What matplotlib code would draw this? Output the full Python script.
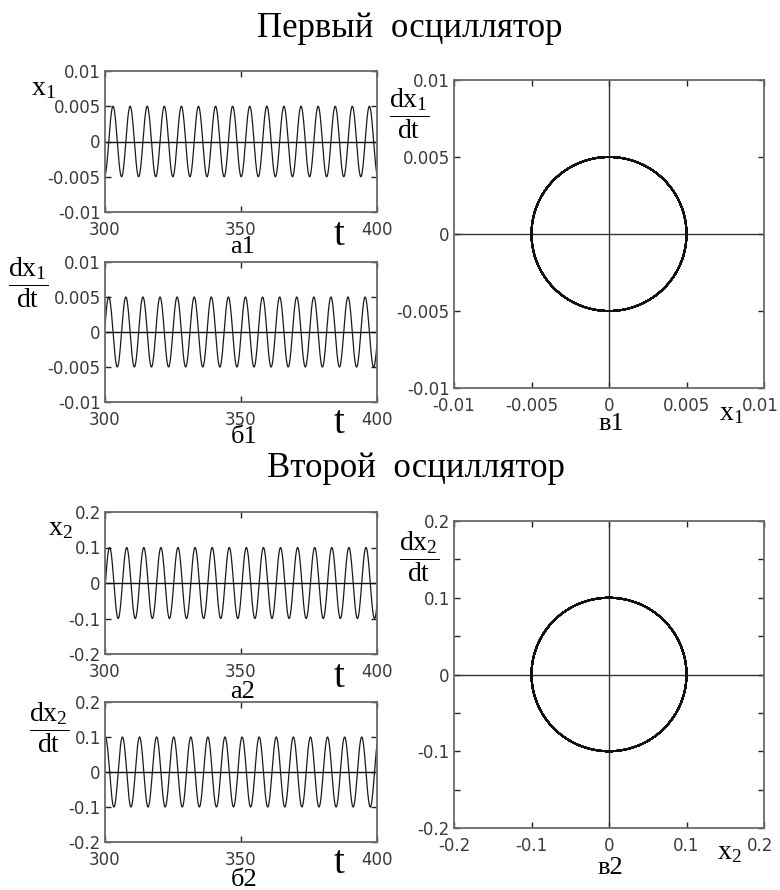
import numpy as np
import matplotlib
matplotlib.use("Agg")
import matplotlib.pyplot as plt
import matplotlib.transforms as mtransforms

plt.rcParams['mathtext.fontset'] = 'custom'
plt.rcParams['mathtext.rm'] = 'Liberation Serif'
plt.rcParams['mathtext.it'] = 'Liberation Serif'

# ---- data ----
t_range = [300, 400]                    # time window
amp_osc1 = 0.005                        # amplitude, first oscillator
amp_osc2 = 0.1                          # amplitude, second oscillator
omega_osc = [1.0, 1.0]                  # angular frequency (≈16 periods per 100 s)
peak_time_osc = [302.95, 301.7]         # time of a maximum of x(t)

time_ticks = [300, 350, 400]
time_ticklabels = ["300", "350", "400"]
ticks1 = [-0.01, -0.005, 0, 0.005, 0.01]
ticklabels1 = ["-0.01", "-0.005", "0", "0.005", "0.01"]
ticks2 = [-0.2, -0.1, 0, 0.1, 0.2]
ticklabels2 = ["-0.2", "-0.1", "0", "0.1", "0.2"]
ticks2_fine = [-0.2, -0.15, -0.1, -0.05, 0, 0.05, 0.1, 0.15, 0.2]
ticklabels2_fine = ["-0.2", "", "-0.1", "", "0", "", "0.1", "", "0.2"]

W, H = 780, 890
fig = plt.figure(figsize=(W / 100, H / 100), dpi=100)
fig.patch.set_facecolor("white")

SERIF = ["Liberation Serif", "DejaVu Serif"]
SANS = ["DejaVu Sans"]
TICKC = "#3a3a3a"
SPINEC = "#6a6a6a"


def ax_px(left, top, right, bottom):
    return fig.add_axes([left / W, 1 - bottom / H, (right - left) / W, (bottom - top) / H])


def ftext(x, y, s, size, **kw):
    fig.text(x / W, 1 - y / H, s, fontsize=size, **kw)


def style(ax, xt, xtl, yt, ytl, lim_x, lim_y):
    ax.set_xlim(*lim_x)
    ax.set_ylim(*lim_y)
    ax.set_xticks(xt)
    ax.set_xticklabels(xtl)
    ax.set_yticks(yt)
    ax.set_yticklabels(ytl)
    ax.tick_params(direction="in", length=4, width=1, color="#222222",
                   top=True, right=True, labelsize=12, labelcolor=TICKC)
    ax.tick_params(axis="x", pad=6.5)
    ax.tick_params(axis="y", pad=3)
    for lab in ax.get_xticklabels() + ax.get_yticklabels():
        lab.set_family(SANS)
    for sp in ax.spines.values():
        sp.set_color(SPINEC)
        sp.set_linewidth(1.3)


def series(amp, omega, tpk):
    t = np.linspace(t_range[0], t_range[1], 4000)
    x = amp * np.cos(omega * (t - tpk))
    dx = -amp * omega * np.sin(omega * (t - tpk))
    return t, x, dx


osc = [
    dict(amp=amp_osc1, ticks=ticks1, labels=ticklabels1, lim=(-0.01, 0.01),
         yt_phase=ticks1, ytl_phase=ticklabels1,
         a=(105, 71, 377, 212), b=(105, 262, 377, 402), v=(454, 80, 764, 388)),
    dict(amp=amp_osc2, ticks=ticks2, labels=ticklabels2, lim=(-0.2, 0.2),
         yt_phase=ticks2_fine, ytl_phase=ticklabels2_fine,
         a=(105, 512, 377, 654), b=(105, 702, 377, 842), v=(454, 521, 764, 828)),
]

for i, o in enumerate(osc):
    t, x, dx = series(o["amp"], omega_osc[i], peak_time_osc[i])
    for key, y in (("a", x), ("b", dx)):
        ax = ax_px(*o[key])
        ax.plot(t, y, color="#1a1a1a", lw=0.9)
        ax.axhline(0, color="#111111", lw=1.0)
        style(ax, time_ticks, time_ticklabels, o["ticks"], o["labels"],
              t_range, o["lim"])
    ax = ax_px(*o["v"])
    ax.axhline(0, color="#333333", lw=1.0)
    ax.axvline(0, color="#333333", lw=1.0)
    ax.plot(x, dx, color="#111111", lw=1.3)
    style(ax, o["ticks"], o["labels"], o["yt_phase"], o["ytl_phase"],
          o["lim"], o["lim"])
    # keep the last x tick label inside the figure edge
    last = ax.get_xticklabels()[-1]
    last.set_transform(last.get_transform() +
                       mtransforms.ScaledTranslation(-4 / 100, 0, fig.dpi_scale_trans))

# ---- titles ----
ftext(410, 37, "Первый  осциллятор", 25, family=SERIF, ha="center", va="baseline")
ftext(416, 477, "Второй  осциллятор", 25, family=SERIF, ha="center", va="baseline")

# ---- axis labels ----
LBL = 20
ftext(43, 87, r"$\mathrm{x_1}$", LBL, ha="center", va="center")
ftext(28, 283, r"$\dfrac{\mathrm{dx_1}}{\mathrm{dt}}$", LBL, ha="center", va="center")
ftext(409, 114, r"$\dfrac{\mathrm{dx_1}}{\mathrm{dt}}$", LBL, ha="center", va="center")
ftext(731, 412, r"$\mathrm{x_1}$", LBL, ha="center", va="center")

ftext(60, 527, r"$\mathrm{x_2}$", LBL, ha="center", va="center")
ftext(49, 728, r"$\dfrac{\mathrm{dx_2}}{\mathrm{dt}}$", LBL, ha="center", va="center")
ftext(419, 557, r"$\dfrac{\mathrm{dx_2}}{\mathrm{dt}}$", LBL, ha="center", va="center")
ftext(729, 851, r"$\mathrm{x_2}$", LBL, ha="center", va="center")

# time labels
for yb in (245, 433, 687, 873):
    ftext(339, yb, "t", 28, family=SERIF, ha="center", va="baseline")

# panel letters
ftext(243, 253, "а1", 19, family=SERIF, ha="center", va="baseline")
ftext(244, 443, "б1", 19, family=SERIF, ha="center", va="baseline")
ftext(611, 430, "в1", 19, family=SERIF, ha="center", va="baseline")
ftext(243, 698, "а2", 19, family=SERIF, ha="center", va="baseline")
ftext(244, 886, "б2", 19, family=SERIF, ha="center", va="baseline")
ftext(610, 874, "в2", 19, family=SERIF, ha="center", va="baseline")

fig.savefig("out.png", dpi=100, facecolor="white")
